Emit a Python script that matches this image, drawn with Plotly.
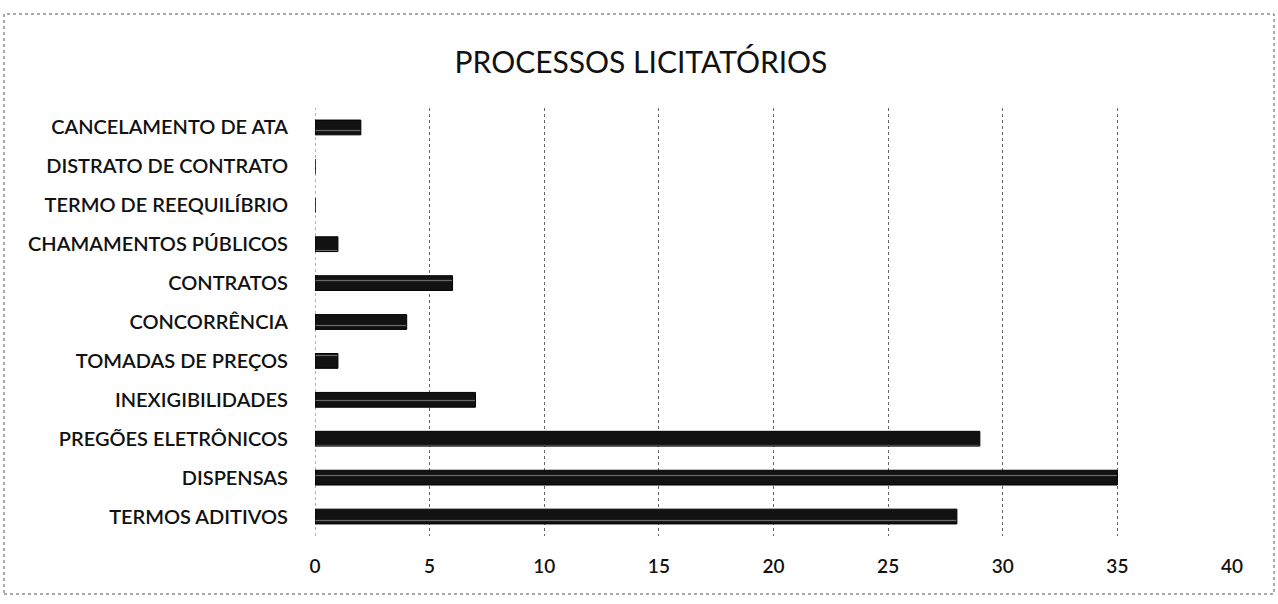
import plotly.graph_objects as go

categories = [
    "TERMOS ADITIVOS",
    "DISPENSAS",
    "PREGÕES ELETRÔNICOS",
    "INEXIGIBILIDADES",
    "TOMADAS DE PREÇOS",
    "CONCORRÊNCIA",
    "CONTRATOS",
    "CHAMAMENTOS PÚBLICOS",
    "TERMO DE REEQUILÍBRIO",
    "DISTRATO DE CONTRATO",
    "CANCELAMENTO DE ATA",
]
values = [28, 35, 29, 7, 1, 4, 6, 1, 0, 0, 2]
x_ticks = [0, 5, 10, 15, 20, 25, 30, 35, 40]

W, H = 1278, 604
ml, mr, mt, mb = 315, 46, 108, 68

fig = go.Figure(
    go.Bar(
        y=categories,
        x=values,
        orientation="h",
        marker=dict(
            color="#121212",
            line=dict(color="#000000", width=1),
            pattern=dict(shape="-", fgcolor="#6a6a6a", bgcolor="#121212",
                         size=15, solidity=0.08, fillmode="replace"),
        ),
        width=0.38,
    )
)

def px2paper_x(px):
    return (px - ml) / (W - ml - mr)

def px2paper_y(py):
    return (H - mb - py) / (H - mt - mb)

fig.add_shape(
    type="rect", xref="paper", yref="paper",
    x0=px2paper_x(4), x1=px2paper_x(1274),
    y0=px2paper_y(594), y1=px2paper_y(14),
    line=dict(color="#555555", width=1, dash="dot"),
    fillcolor="rgba(0,0,0,0)",
)
# dotted value-axis baseline at zero
fig.add_vline(x=0, line=dict(color="#666666", width=1, dash="dot"), layer="below")

fig.update_layout(
    width=W, height=H,
    margin=dict(l=ml, r=mr, t=mt, b=mb, pad=0),
    paper_bgcolor="white",
    plot_bgcolor="white",
    showlegend=False,
    title=dict(
        text="PROCESSOS LICITATÓRIOS",
        x=641 / W, xanchor="center",
        y=1 - 62 / H, yanchor="middle",
        font=dict(family="Lato, Open Sans, sans-serif", size=30, color="#111111"),
    ),
    font=dict(family="Lato, Open Sans, sans-serif", color="#111111"),
)

fig.update_xaxes(
    range=[0, 40],
    tickvals=x_ticks,
    ticktext=[str(t) for t in x_ticks],
    showgrid=True,
    gridcolor="#666666",
    griddash="dot",
    gridwidth=1,
    zeroline=False,
    showline=False,
    ticks="",
    tickfont=dict(size=19, color="#111111", weight=600),
    ticklabelstandoff=17,
)
fig.update_yaxes(
    categoryorder="array",
    categoryarray=categories,
    showgrid=False,
    zeroline=False,
    showline=False,
    ticks="",
    tickfont=dict(size=20, color="#111111", weight=600),
    ticklabelstandoff=26,
)

fig.write_html("out.html", config={"displayModeBar": False},
               post_script="document.body.style.margin='0';")
